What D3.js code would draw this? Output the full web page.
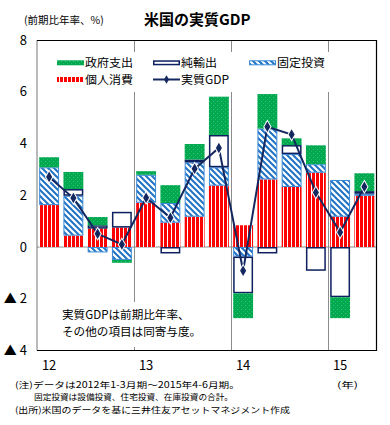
<!DOCTYPE html>
<html><head><meta charset="utf-8">
<script src="https://cdn.jsdelivr.net/npm/d3@7"></script>
<style>
body{margin:0;background:#fff;}
svg{display:block;font-family:"Noto Sans CJK JP","Noto Sans",sans-serif;}
</style></head>
<body><svg id="c" width="390" height="425"></svg>
<script>
const quarters = ["2012Q1","2012Q2","2012Q3","2012Q4","2013Q1","2013Q2","2013Q3","2013Q4","2014Q1","2014Q2","2014Q3","2014Q4","2015Q1","2015Q2"];
const consumption = [1.62, 0.44, 0.71, 0.75, 1.71, 0.94, 1.17, 2.37, 0.84, 2.61, 2.32, 2.87, 1.17, 1.98];
const fixedInv    = [1.46, 1.54, -0.21, -0.50, 1.08, 0.76, 2.10, 0.71, -0.37, 1.97, 1.27, 0.33, 1.42, 0.08];
const netExports  = [-0.05, 0.26, 0.13, 0.61, -0.05, -0.25, 0.11, 1.25, -1.42, -0.25, 0.35, -0.92, -1.94, 0.10];
const govt        = [0.39, 0.66, 0.32, -0.11, 0.14, 0.69, 0.60, 1.48, -0.96, 1.33, 0.26, 0.73, -0.81, 0.69];
const gdp         = [2.71, 1.89, 0.51, 0.10, 1.90, 1.13, 3.02, 3.83, -0.92, 4.65, 4.35, 2.11, 0.57, 2.33];
const yTicks = [8, 6, 4, 2, 0, -2, -4];
const yTickLabels = ["8", "6", "4", "2", "0", "▲ 2", "▲ 4"];
const yearLabels = ["12", "13", "14", "15"];
const yearStartQuarters = ["2012Q1", "2013Q1", "2014Q1", "2015Q1"];
const seriesKeys = ["consumption", "fixedInv", "netExports", "govt"];
const seriesNames = {govt:"政府支出", netExports:"純輸出", fixedInv:"固定投資", consumption:"個人消費", gdp:"実質GDP"};

const svg = d3.select("#c");
const L = 37, R = 376.5, T = 40, B = 350.5;

const defs = svg.append("defs");
const pr = defs.append("pattern").attr("id","pRed").attr("width",4).attr("height",4).attr("patternUnits","userSpaceOnUse");
pr.append("rect").attr("width",4).attr("height",4).attr("fill","#fff");
pr.append("rect").attr("width",3).attr("height",4).attr("fill","#ff0000");
const pb = defs.append("pattern").attr("id","pBlue").attr("width",6).attr("height",6).attr("patternUnits","userSpaceOnUse");
pb.append("rect").attr("width",6).attr("height",6).attr("fill","#fff");
pb.append("path").attr("d","M-1,-1L7,7M-1,5L1,7M5,-1L7,1").attr("stroke","#1f72c4").attr("stroke-width",2);
const pg = defs.append("pattern").attr("id","pGreen").attr("width",4).attr("height",4).attr("patternUnits","userSpaceOnUse");
pg.append("rect").attr("width",4).attr("height",4).attr("fill","#00a84f");
pg.append("rect").attr("x",1).attr("y",1).attr("width",1).attr("height",1).attr("fill","#3cc476");
pg.append("rect").attr("x",3).attr("y",3).attr("width",1).attr("height",1).attr("fill","#2bb865");

const styles = {
  consumption:{fill:"url(#pRed)", stroke:"none", sw:0},
  fixedInv:{fill:"url(#pBlue)", stroke:"#3b8ad6", sw:1},
  netExports:{fill:"#fff", stroke:"#0c1f5e", sw:1.5},
  govt:{fill:"url(#pGreen)", stroke:"none", sw:0}
};

const x = d3.scaleBand().domain(quarters).range([L, R]).paddingInner(0.18).paddingOuter(0.09);
const y = d3.scaleLinear().domain([-4, 8]).range([B, T]);
const step = x.step();

// zero line
svg.append("line").attr("x1",L).attr("x2",R).attr("y1",y(0)).attr("y2",y(0)).attr("stroke","#8c8c8c").attr("stroke-width",1.2);

// year separators
yearStartQuarters.slice(1).forEach(q => {
  const sx = Math.round(x(q) - step * x.paddingInner() / 2) + 0.5;
  svg.append("line").attr("x1",sx).attr("x2",sx).attr("y1",T).attr("y2",B).attr("stroke","#8c8c8c").attr("stroke-width",1);
});

// stacked bars
const rows = quarters.map((q, i) => ({q, consumption:consumption[i], fixedInv:fixedInv[i], netExports:netExports[i], govt:govt[i]}));
const stacked = d3.stack().keys(seriesKeys).order(d3.stackOrderNone).offset(d3.stackOffsetDiverging)(rows);
stacked.forEach(s => {
  const st = styles[s.key];
  svg.append("g").selectAll("rect").data(s).join("rect")
    .attr("x", d => x(d.data.q) + st.sw/2)
    .attr("width", x.bandwidth() - st.sw)
    .attr("y", d => y(Math.max(d[0], d[1])) + st.sw/2)
    .attr("height", d => Math.max(0, Math.abs(y(d[0]) - y(d[1])) - st.sw))
    .attr("fill", st.fill).attr("stroke", st.stroke).attr("stroke-width", st.sw);
});

// GDP line
const line = d3.line().x((d, i) => x(quarters[i]) + x.bandwidth()/2).y(d => y(d));
svg.append("path").datum(gdp).attr("d", line).attr("fill","none").attr("stroke","#14275e").attr("stroke-width",2);
svg.append("g").selectAll("path").data(gdp).join("path")
  .attr("transform", (d, i) => `translate(${x(quarters[i]) + x.bandwidth()/2},${y(d)})`)
  .attr("d", d3.symbol().type(d3.symbolDiamond).size(32))
  .attr("fill","#14275e").attr("stroke","#fff").attr("stroke-width",2).attr("paint-order","stroke");

// frame
svg.append("line").attr("x1",L).attr("x2",L).attr("y1",T).attr("y2",B).attr("stroke","#777");
svg.append("path").attr("d",`M${L},${T+0.5}H${R}V${B}H${L}`).attr("fill","none").attr("stroke","#000").attr("stroke-width",1.2);

// y axis
const yAxis = d3.axisLeft(y).tickValues(yTicks).tickSize(0).tickPadding(10)
  .tickFormat((d) => yTickLabels[yTicks.indexOf(d)]);
const ya = svg.append("g").attr("transform",`translate(${L},0)`).call(yAxis);
ya.select(".domain").remove();
ya.selectAll("text").attr("font-size",13).attr("fill","#000").attr("font-family",'"Noto Sans CJK JP",sans-serif');

// x labels
svg.append("g").selectAll("text").data(yearLabels).join("text")
  .attr("x", (d, i) => x(yearStartQuarters[i]) + x.bandwidth()/2)
  .attr("y", 370).attr("text-anchor","middle").attr("font-size",13).text(d => d);

// legend
svg.append("rect").attr("x",52).attr("y",52).attr("width",292).attr("height",40).attr("fill","#fff");
const legendItems = [
  {key:"govt", x:57, y:62.8},
  {key:"netExports", x:153, y:62.8},
  {key:"fixedInv", x:249, y:62.8},
  {key:"consumption", x:57, y:79.5},
  {key:"gdp", x:153, y:79.5}
];
legendItems.forEach(it => {
  const g = svg.append("g");
  if (it.key === "gdp") {
    g.append("line").attr("x1",it.x).attr("x2",it.x+27).attr("y1",it.y).attr("y2",it.y).attr("stroke","#14275e").attr("stroke-width",2);
    g.append("path").attr("transform",`translate(${it.x+13.5},${it.y})`).attr("d",d3.symbol().type(d3.symbolDiamond).size(22)).attr("fill","#14275e");
  } else {
    const st = styles[it.key];
    g.append("rect").attr("x",it.x + st.sw/2).attr("y",it.y-2.5 + st.sw/2).attr("width",27 - st.sw).attr("height",5 - st.sw)
      .attr("fill",st.fill).attr("stroke",st.stroke).attr("stroke-width",st.sw);
  }
  g.append("text").attr("x",it.x+28).attr("y",it.y+4.3).attr("font-size",11.5)
    .attr("textLength", it.key === "netExports" ? 36 : 48).attr("lengthAdjust","spacingAndGlyphs").text(seriesNames[it.key]);
});

// annotation
svg.append("rect").attr("x",58).attr("y",302).attr("width",140).attr("height",45).attr("fill","#fff");
svg.append("text").attr("x",62).attr("y",319).attr("font-size",11.6).text("実質GDPは前期比年率、");
svg.append("text").attr("x",62).attr("y",336).attr("font-size",11.6).text("その他の項目は同寄与度。");

// titles
svg.append("text").attr("x",24).attr("y",24).attr("font-size",10.5).text("(前期比年率、%)");
svg.append("text").attr("x",144).attr("y",25).attr("font-size",15).attr("font-weight","bold").text("米国の実質GDP");

// notes
const note = (tx, xx, yy, len) => svg.append("text").attr("x",xx).attr("y",yy).attr("font-size",8.5)
  .attr("textLength",len).attr("lengthAdjust","spacingAndGlyphs").text(tx);
note("(注)データは2012年1-3月期～2015年4-6月期。", 15, 387.5, 225);
note("(年)", 337, 387.5, 21);
note("固定投資は設備投資、住宅投資、在庫投資の合計。", 34, 400, 199);
note("(出所)米国のデータを基に三井住友アセットマネジメント作成", 15, 412.5, 275);
</script></body></html>
